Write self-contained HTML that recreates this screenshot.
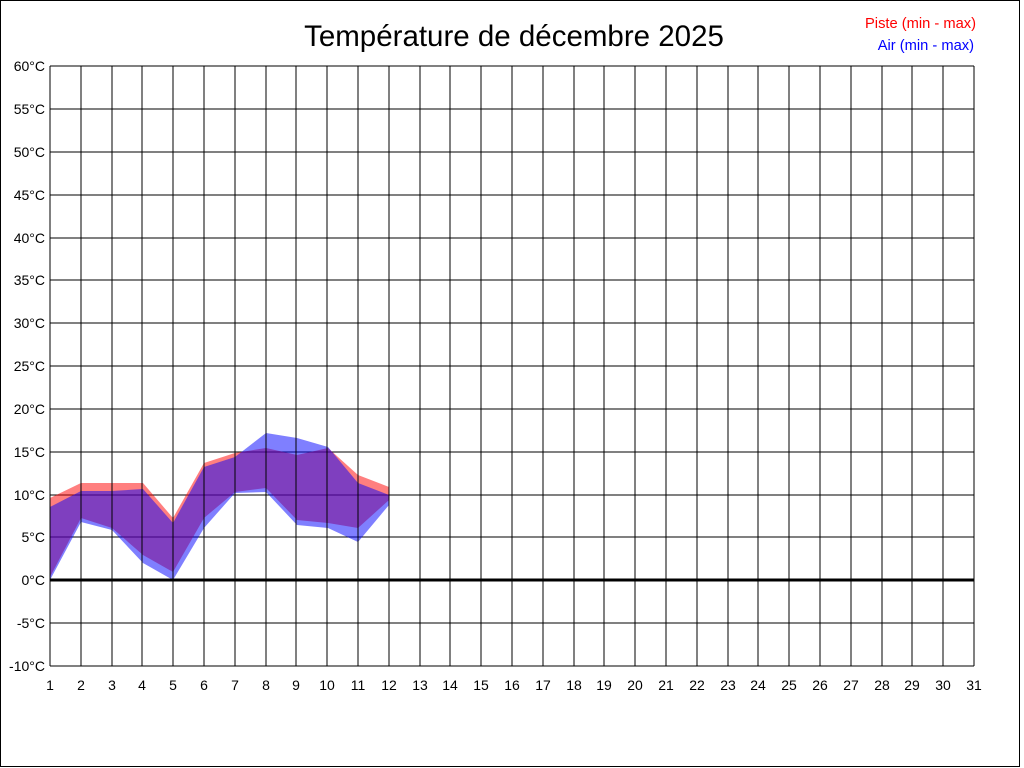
<!DOCTYPE html>
<html><head><meta charset="utf-8"><style>
body{margin:0;background:#fff;}
svg{display:block;font-family:"Liberation Sans",sans-serif;}
</style></head><body>
<svg width="1024" height="768" xmlns="http://www.w3.org/2000/svg">
<rect x="0.5" y="0.5" width="1019" height="766" fill="#fff" stroke="#000" stroke-width="1"/>
<text x="514" y="46" font-size="29.5" text-anchor="middle">Température de décembre 2025</text>
<text x="976" y="28" font-size="14.7" fill="#f00" text-anchor="end">Piste (min - max)</text>
<text x="974" y="50" font-size="14.7" fill="#00f" text-anchor="end">Air (min - max)</text>
<g stroke="#000" stroke-width="1" shape-rendering="crispEdges">
<line x1="50" y1="66" x2="974" y2="66"/><line x1="50" y1="109" x2="974" y2="109"/><line x1="50" y1="152" x2="974" y2="152"/><line x1="50" y1="195" x2="974" y2="195"/><line x1="50" y1="238" x2="974" y2="238"/><line x1="50" y1="280" x2="974" y2="280"/><line x1="50" y1="323" x2="974" y2="323"/><line x1="50" y1="366" x2="974" y2="366"/><line x1="50" y1="409" x2="974" y2="409"/><line x1="50" y1="452" x2="974" y2="452"/><line x1="50" y1="495" x2="974" y2="495"/><line x1="50" y1="537" x2="974" y2="537"/><line x1="50" y1="623" x2="974" y2="623"/><line x1="50" y1="666" x2="974" y2="666"/>
</g>
<polygon fill="rgba(255,0,0,0.5)" points="50,498 81,483 112,483 143,483 173,518 204,463 235,453 266,448 297,455 328,448 358,475 389,487 389,500 358,528 328,523 297,520 266,488 235,492 204,518 173,572 143,555 112,528 81,518 50,577"/>
<polygon fill="rgba(0,0,255,0.5)" points="50,507 81,491 112,491 143,489 173,523 204,467 235,457 266,433 297,438 328,447 358,483 389,495 389,505 358,542 328,528 297,525 266,492 235,493 204,528 173,580 143,563 112,530 81,522 50,580"/>
<line x1="50" y1="580" x2="974" y2="580" stroke="#000" stroke-width="3"/>
<g font-size="14" text-anchor="end">
<text x="45" y="71">60°C</text><text x="45" y="114">55°C</text><text x="45" y="157">50°C</text><text x="45" y="200">45°C</text><text x="45" y="243">40°C</text><text x="45" y="285">35°C</text><text x="45" y="328">30°C</text><text x="45" y="371">25°C</text><text x="45" y="414">20°C</text><text x="45" y="457">15°C</text><text x="45" y="500">10°C</text><text x="45" y="542">5°C</text><text x="45" y="585">0°C</text><text x="45" y="628">-5°C</text><text x="45" y="671">-10°C</text>
</g>
<g font-size="14" text-anchor="middle">
<text x="50" y="690">1</text><text x="81" y="690">2</text><text x="112" y="690">3</text><text x="142" y="690">4</text><text x="173" y="690">5</text><text x="204" y="690">6</text><text x="235" y="690">7</text><text x="266" y="690">8</text><text x="296" y="690">9</text><text x="327" y="690">10</text><text x="358" y="690">11</text><text x="389" y="690">12</text><text x="420" y="690">13</text><text x="450" y="690">14</text><text x="481" y="690">15</text><text x="512" y="690">16</text><text x="543" y="690">17</text><text x="574" y="690">18</text><text x="604" y="690">19</text><text x="635" y="690">20</text><text x="666" y="690">21</text><text x="697" y="690">22</text><text x="728" y="690">23</text><text x="758" y="690">24</text><text x="789" y="690">25</text><text x="820" y="690">26</text><text x="851" y="690">27</text><text x="882" y="690">28</text><text x="912" y="690">29</text><text x="943" y="690">30</text><text x="974" y="690">31</text>
</g>
<g stroke="#000" stroke-width="1" shape-rendering="crispEdges">
<line x1="50" y1="66" x2="50" y2="666"/><line x1="81" y1="66" x2="81" y2="666"/><line x1="112" y1="66" x2="112" y2="666"/><line x1="142" y1="66" x2="142" y2="666"/><line x1="173" y1="66" x2="173" y2="666"/><line x1="204" y1="66" x2="204" y2="666"/><line x1="235" y1="66" x2="235" y2="666"/><line x1="266" y1="66" x2="266" y2="666"/><line x1="296" y1="66" x2="296" y2="666"/><line x1="327" y1="66" x2="327" y2="666"/><line x1="358" y1="66" x2="358" y2="666"/><line x1="389" y1="66" x2="389" y2="666"/><line x1="420" y1="66" x2="420" y2="666"/><line x1="450" y1="66" x2="450" y2="666"/><line x1="481" y1="66" x2="481" y2="666"/><line x1="512" y1="66" x2="512" y2="666"/><line x1="543" y1="66" x2="543" y2="666"/><line x1="574" y1="66" x2="574" y2="666"/><line x1="604" y1="66" x2="604" y2="666"/><line x1="635" y1="66" x2="635" y2="666"/><line x1="666" y1="66" x2="666" y2="666"/><line x1="697" y1="66" x2="697" y2="666"/><line x1="728" y1="66" x2="728" y2="666"/><line x1="758" y1="66" x2="758" y2="666"/><line x1="789" y1="66" x2="789" y2="666"/><line x1="820" y1="66" x2="820" y2="666"/><line x1="851" y1="66" x2="851" y2="666"/><line x1="882" y1="66" x2="882" y2="666"/><line x1="912" y1="66" x2="912" y2="666"/><line x1="943" y1="66" x2="943" y2="666"/><line x1="974" y1="66" x2="974" y2="666"/>
</g>
</svg>
</body></html>
